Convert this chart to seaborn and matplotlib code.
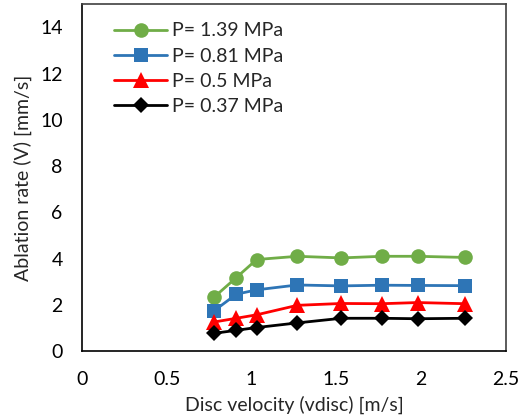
import matplotlib
matplotlib.use("Agg")
import matplotlib.pyplot as plt
import seaborn as sns
import pandas as pd

# Disc velocity [m/s]
velocity = [0.78, 0.91, 1.03, 1.27, 1.53, 1.77, 1.98, 2.26]

# Ablation rate [mm/s] at each chamber pressure
rate_139 = [2.34, 3.18, 3.96, 4.10, 4.03, 4.10, 4.10, 4.05]
rate_081 = [1.75, 2.46, 2.65, 2.86, 2.82, 2.85, 2.84, 2.83]
rate_050 = [1.26, 1.42, 1.57, 1.98, 2.06, 2.05, 2.10, 2.05]
rate_037 = [0.77, 0.90, 1.02, 1.22, 1.42, 1.42, 1.40, 1.42]

labels = ["P= 1.39 MPa", "P= 0.81 MPa", "P= 0.5 MPa", "P= 0.37 MPa"]
series = [rate_139, rate_081, rate_050, rate_037]

rows = []
for lab, vals in zip(labels, series):
    for v, r in zip(velocity, vals):
        rows.append({"velocity": v, "rate": r, "pressure": lab})
df = pd.DataFrame(rows)

sns.set_style("white")
plt.rcParams["font.family"] = ["Lato", "DejaVu Sans"]

colors = {labels[0]: "#70AD47", labels[1]: "#2E75B6",
          labels[2]: "#FF0000", labels[3]: "#000000"}
markers = {labels[0]: "o", labels[1]: "s", labels[2]: "^", labels[3]: "D"}
msizes = {labels[0]: 10.5, labels[1]: 9.5, labels[2]: 11, labels[3]: 8}

fig = plt.figure(figsize=(5.23, 4.2), dpi=100)
ax = fig.add_axes([0.157, 0.164, 0.81, 0.826])

for lab in labels:
    sub = df[df["pressure"] == lab]
    sns.lineplot(data=sub, x="velocity", y="rate", ax=ax, color=colors[lab],
                 marker=markers[lab], markersize=msizes[lab],
                 markeredgewidth=0, linewidth=2.0, label=lab)

ax.set_xlim(0, 2.5)
ax.set_ylim(0, 15)
ax.set_xticks([0, 0.5, 1, 1.5, 2, 2.5])
ax.set_xticklabels(["0", "0.5", "1", "1.5", "2", "2.5"])
ax.set_yticks([0, 2, 4, 6, 8, 10, 12, 14])
ax.tick_params(direction="in", length=6, width=1, labelsize=14, colors="black")
ax.tick_params(axis="y", pad=14)
ax.tick_params(axis="x", pad=14)
for s in ax.spines.values():
    s.set_color("black")
    s.set_linewidth(1.2)
ax.spines["top"].set_color("#404040")
ax.spines["right"].set_color("#404040")

ax.set_xlabel("Disc velocity (vdisc) [m/s]", fontsize=14, labelpad=6)
ax.set_ylabel("Ablation rate (V) [mm/s]", fontsize=14, labelpad=6)

leg = ax.legend(loc="upper left", frameon=False, fontsize=14,
                handlelength=2.7, handletextpad=0.25, labelspacing=0.42,
                bbox_to_anchor=(0.058, 0.97), borderaxespad=0.0)

fig.savefig("out.png", dpi=100)
